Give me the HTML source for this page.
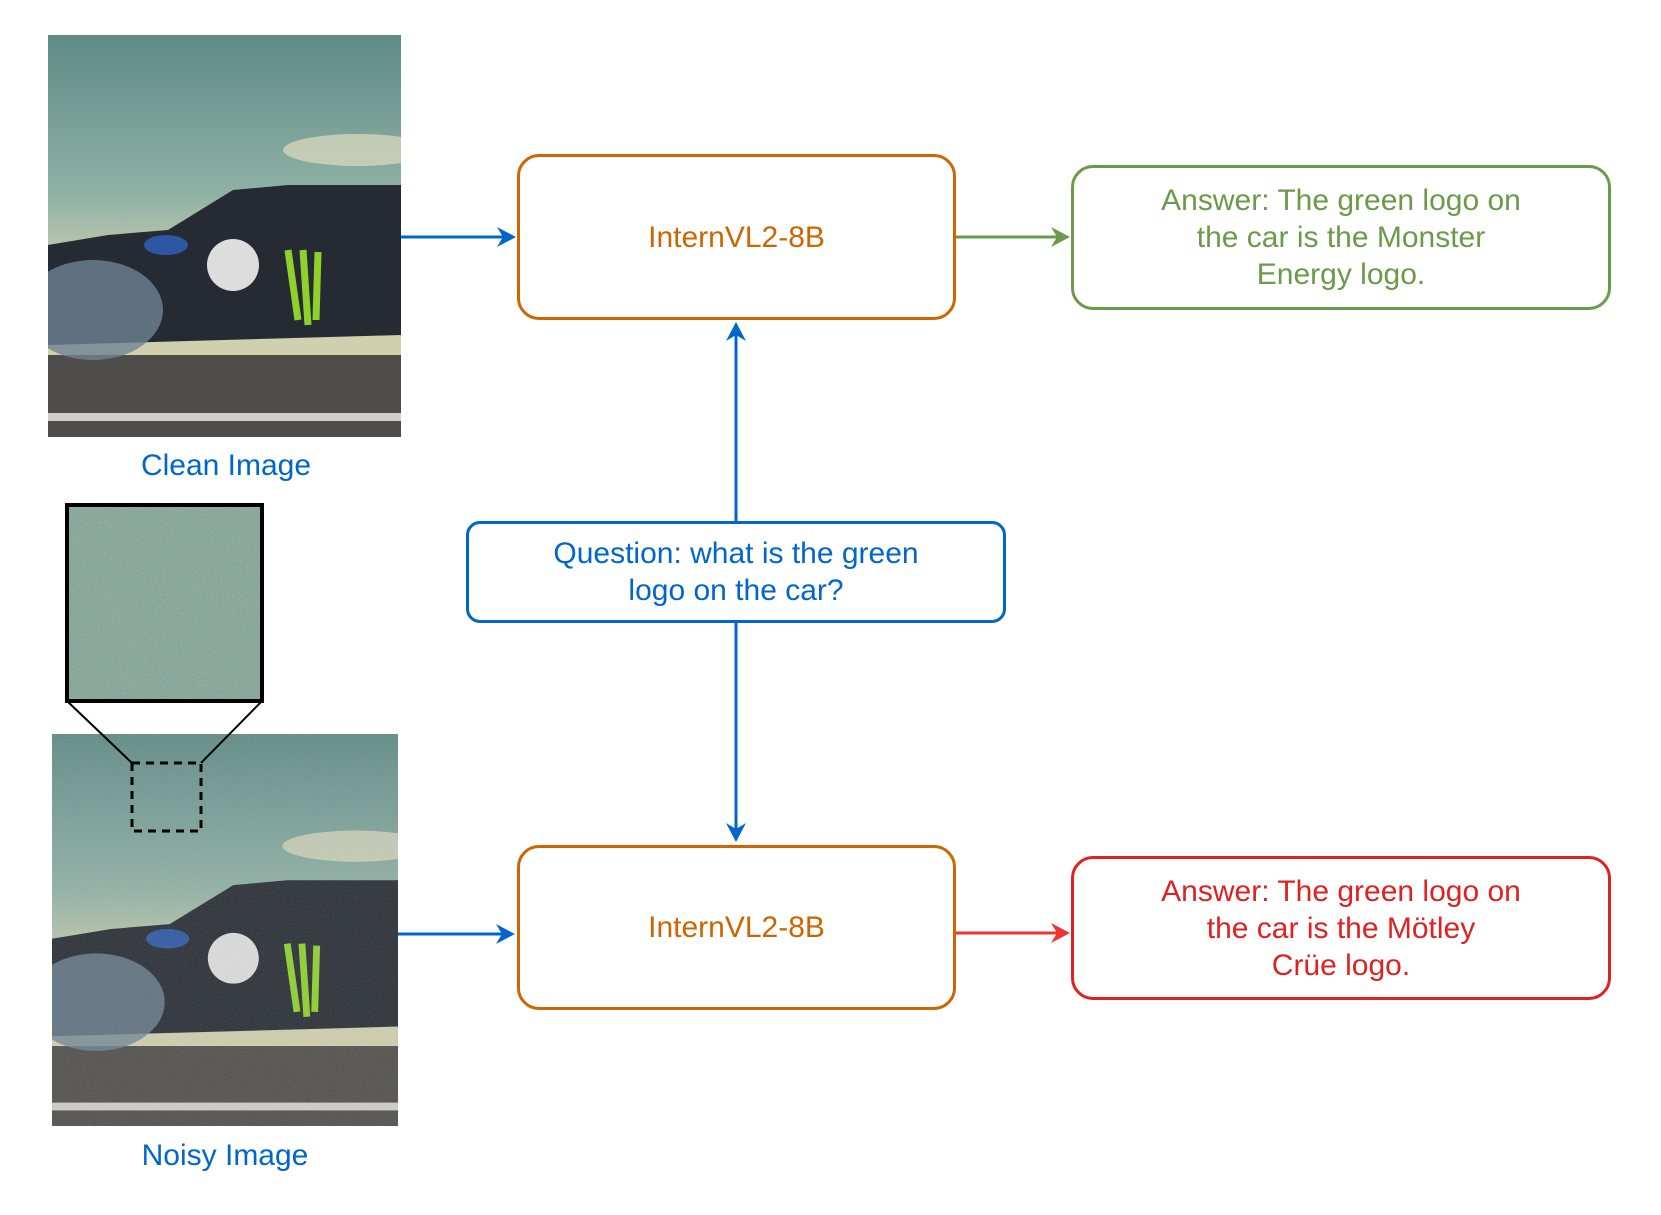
<!DOCTYPE html>
<html><head><meta charset="utf-8"><style>
body{margin:0;background:#fff;width:1661px;height:1215px;overflow:hidden;position:relative;font-family:"Comic Sans MS","Liberation Sans Narrow","Liberation Sans",sans-serif}
.box{position:absolute;box-sizing:border-box;border:3px solid;border-radius:22px;display:flex;align-items:center;justify-content:center;text-align:center;font-size:30px;line-height:37px}
.lbl{position:absolute;font-size:30px;color:#0066cc;transform:translateX(-50%);white-space:nowrap}
</style></head><body>
<svg width="1661" height="1215" style="position:absolute;left:0;top:0">
<defs>
<linearGradient id="sky" x1="0" y1="0" x2="0" y2="1"><stop offset="0" stop-color="#5f8a86"/><stop offset="0.4" stop-color="#90b2a6"/><stop offset="0.6" stop-color="#d0cfae"/></linearGradient>
<filter id="noise"><feTurbulence type="fractalNoise" baseFrequency="0.9" numOctaves="2" seed="3"/><feColorMatrix type="saturate" values="1.5"/></filter>
<g id="photo">
<rect width="353" height="402" fill="url(#sky)"/>
<ellipse cx="310" cy="115" rx="75" ry="16" fill="#e0dcc0" opacity="0.7"/>
<rect y="320" width="353" height="82" fill="#4e4d4a"/>
<rect y="378" width="353" height="8" fill="#cfcfc8"/>
<path d="M0 210 L60 200 L120 195 L185 155 L240 150 L353 150 L353 300 L0 310 Z" fill="#262b33"/>
<ellipse cx="45" cy="275" rx="70" ry="50" fill="#6e8393" opacity="0.8"/>
<circle cx="185" cy="230" r="26" fill="#ddd"/>
<path d="M240 215 L250 285 M255 215 L260 290 M270 217 L268 285" stroke="#8fd12a" stroke-width="7" fill="none"/>
<ellipse cx="118" cy="210" rx="22" ry="10" fill="#2d56a5"/>
</g>
</defs>
<svg x="48" y="35" width="353" height="402"><use href="#photo"/></svg>
<svg x="52" y="734" width="346" height="392" viewBox="0 0 353 402" preserveAspectRatio="none"><use href="#photo"/><rect width="353" height="402" filter="url(#noise)" opacity="0.25"/></svg>
<svg x="67" y="505" width="195" height="196"><rect width="195" height="196" fill="#7aa394"/><rect width="195" height="196" filter="url(#noise)" opacity="0.5"/></svg>
<rect x="67" y="505" width="195" height="196" fill="none" stroke="#000" stroke-width="4"/>
<path d="M67 701 L132 763 M262 701 L201 763" stroke="#000" stroke-width="2"/>
<rect x="132" y="763" width="69" height="68" fill="none" stroke="#000" stroke-width="3" stroke-dasharray="8 6"/>
<g stroke-width="3" fill="none">
<path d="M401 237 L508 237" stroke="#0066cc"/>
<path d="M398 934 L507 934" stroke="#0066cc"/>
<path d="M736 521 L736 331" stroke="#0066cc"/>
<path d="M736 623 L736 834" stroke="#0066cc"/>
<path d="M956 237 L1061 237" stroke="#6a9a4a"/>
<path d="M956 933 L1061 933" stroke="#ee3333"/>
</g>
<path d="M516 237 L497 227 L503 237 L497 247Z" fill="#0066cc"/>
<path d="M515 934 L496 924 L502 934 L496 944Z" fill="#0066cc"/>
<path d="M736 322 L726 341 L736 335 L746 341Z" fill="#0066cc"/>
<path d="M736 842 L726 823 L736 829 L746 823Z" fill="#0066cc"/>
<path d="M1070 237 L1051 227 L1057 237 L1051 247Z" fill="#6a9a4a"/>
<path d="M1070 933 L1051 923 L1057 933 L1051 943Z" fill="#ee3333"/>
</svg>
<div class="lbl" style="left:226px;top:449px">Clean Image</div>
<div class="lbl" style="left:225px;top:1139px">Noisy Image</div>
<div class="box" style="left:517px;top:154px;width:439px;height:166px;border-color:#cc6600;color:#cc6600">InternVL2-8B</div>
<div class="box" style="left:517px;top:845px;width:439px;height:165px;border-color:#cc6600;color:#cc6600">InternVL2-8B</div>
<div class="box" style="left:466px;top:521px;width:540px;height:102px;border-color:#0066cc;color:#0066cc;border-radius:14px">Question: what is the green<br>logo on the car?</div>
<div class="box" style="left:1071px;top:165px;width:540px;height:145px;border-color:#6a9a4a;color:#6a9a4a">Answer: The green logo on<br>the car is the Monster<br>Energy logo.</div>
<div class="box" style="left:1071px;top:856px;width:540px;height:144px;border-color:#dd2222;color:#dd2222">Answer: The green logo on<br>the car is the Mötley<br>Crüe logo.</div>
</body></html>
